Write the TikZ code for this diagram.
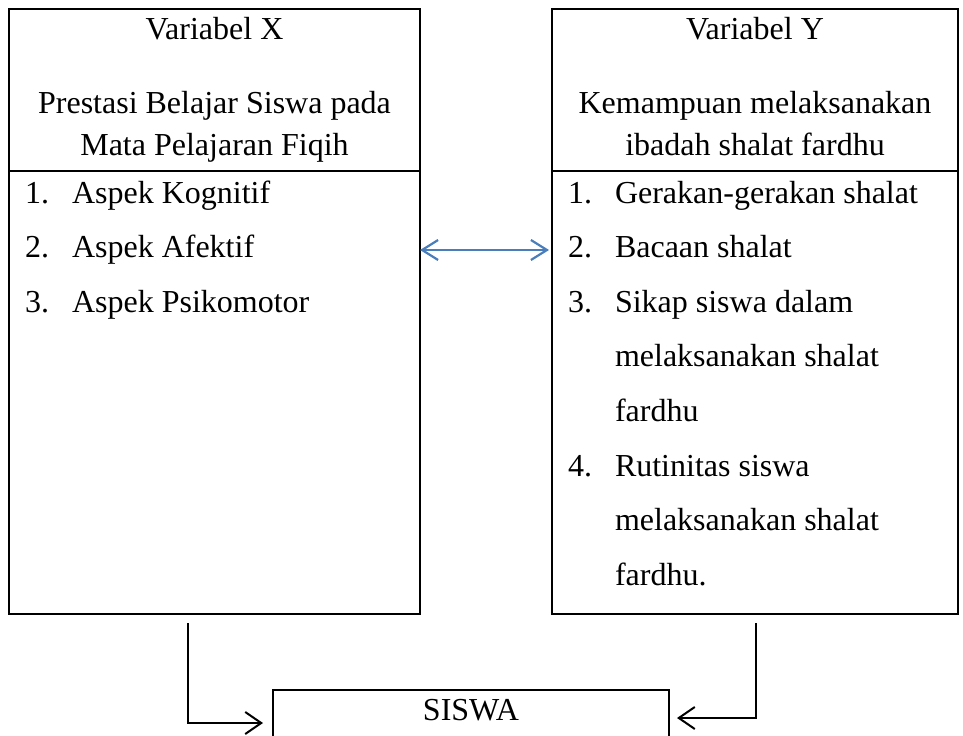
\documentclass[tikz,border=0pt]{standalone}
\usepackage{fontspec}
\setmainfont{Liberation Serif}
\usetikzlibrary{arrows.meta}
\definecolor{ink}{HTML}{000000}
\definecolor{wordblue}{HTML}{4A7EBB}
\newcommand{\bodyfont}{\fontsize{32bp}{40bp}\selectfont}
\tikzset{
  every node/.style={font=\bodyfont,text=ink,inner sep=0pt,outer sep=0pt},
  frame/.style={draw=ink,line width=2.4bp,anchor=north west},
  feed/.style={line width=2bp,draw=ink,-{Straight Barb[length=16bp,width=22bp]}},
  relate/.style={line width=2.2bp,draw=wordblue,{Straight Barb[length=16bp,width=20bp]}-{Straight Barb[length=16bp,width=20bp]}}
}

\begin{document}
\begin{tikzpicture}[x=1bp,y=-1bp]

\path[use as bounding box] (0,0) rectangle (963,736);
\clip (0,0) rectangle (963,736);
% Two variable boxes side by side, the student box cut off at the bottom.
\node[frame,minimum width=411bp,minimum height=162bp] (headX) at (9,9) {};
\node[frame,minimum width=411bp,minimum height=443bp] (listX) at (9,171) {};
\node[frame,minimum width=406bp,minimum height=162bp] (headY) at (552,9) {};
\node[frame,minimum width=406bp,minimum height=443bp] (listY) at (552,171) {};
\node[frame,minimum width=396bp,minimum height=80bp] (siswa) at (273,690) {};

\node[anchor=base] (titleX) at (214.5,40) {Variabel X};
\node[anchor=base] (nameX1) at (214.5,113) {Prestasi Belajar Siswa pada};
\node[anchor=base] (nameX2) at (214.5,155) {Mata Pelajaran Fiqih};
\node[anchor=base] (titleY) at (755,40) {Variabel Y};
\node[anchor=base] (nameY1) at (755,113) {Kemampuan melaksanakan};
\node[anchor=base] (nameY2) at (755,155) {ibadah shalat fardhu};

\foreach \n/\t [count=\i] in {1./Aspek Kognitif,2./Aspek Afektif,3./Aspek Psikomotor}
 {\node[anchor=base west] (numX\i) at (25,{203+54.6*(\i-1)}) {\n};
  \node[anchor=base west] (itemX\i) at (72,{203+54.6*(\i-1)}) {\t};}
\foreach \n/\t [count=\i] in {1./Gerakan-gerakan shalat,2./Bacaan shalat,3./Sikap siswa dalam,/melaksanakan shalat,/fardhu,4./Rutinitas siswa,/melaksanakan shalat,/fardhu.}
 {\node[anchor=base west] (numY\i) at (568,{203+54.6*(\i-1)}) {\n};
  \node[anchor=base west] (itemY\i) at (615,{203+54.6*(\i-1)}) {\t};}

\node[anchor=base] (siswaT) at (471,720) {SISWA};

% X and Y relate to each other, both lead down to the students.
\draw[relate] ([yshift=-79bp]listX.north east) -- ([xshift=-3bp,yshift=-79bp]listY.north west);
\draw[feed] ([xshift=179bp,yshift=-9bp]listX.south west) |- ([xshift=-10bp,yshift=-33bp]siswa.north west);
\draw[feed] ([xshift=-202bp,yshift=-9bp]listY.south east) |- ([xshift=8bp,yshift=-28bp]siswa.north east);
\end{tikzpicture}
\end{document}
